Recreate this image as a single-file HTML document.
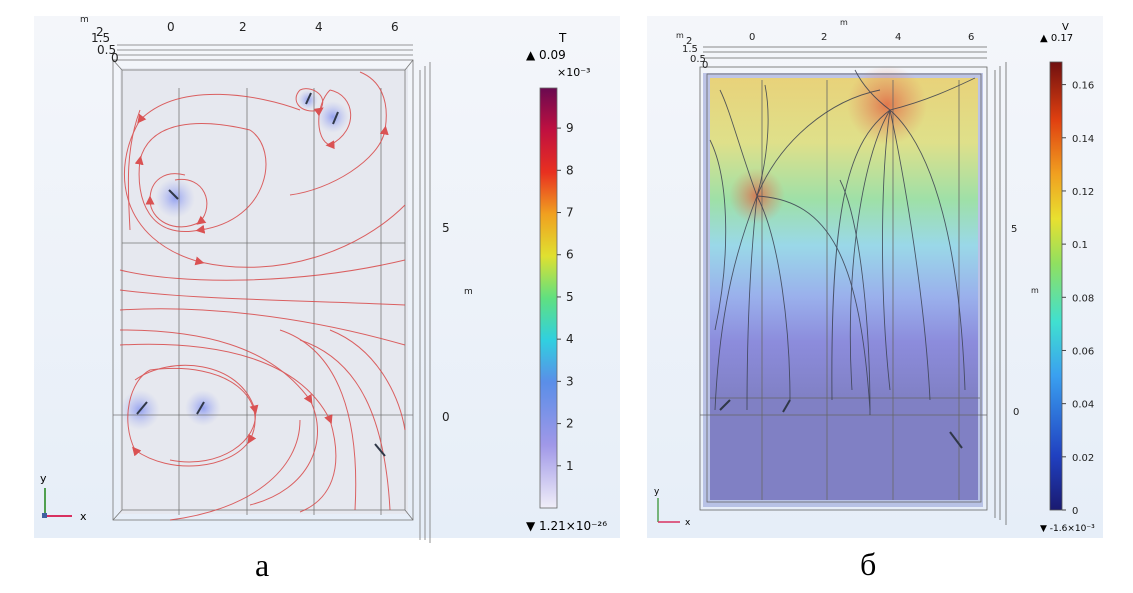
<!DOCTYPE html>
<html><head><meta charset="utf-8"><style>
html,body{margin:0;padding:0;background:#fff;width:1133px;height:593px;overflow:hidden}
svg{position:absolute;left:0;top:0}
text{font-family:"DejaVu Sans","Liberation Sans",sans-serif}
.cap{font-family:"Liberation Serif",serif;font-size:32px}
</style></head><body>
<svg width="1133" height="593" viewBox="0 0 1133 593">
<defs>
<linearGradient id="bgL" x1="0" y1="0" x2="0" y2="1"><stop offset="0" stop-color="#f4f6fa"/><stop offset="1" stop-color="#e6eef8"/></linearGradient>
<linearGradient id="cbT" x1="0" y1="1" x2="0" y2="0">
<stop offset="0" stop-color="#f0eef8"/><stop offset="0.15" stop-color="#a098e8"/><stop offset="0.3" stop-color="#5a8ee8"/><stop offset="0.4" stop-color="#30d0e0"/><stop offset="0.5" stop-color="#60e080"/><stop offset="0.6" stop-color="#e0e030"/><stop offset="0.7" stop-color="#f0a020"/><stop offset="0.8" stop-color="#e83020"/><stop offset="0.9" stop-color="#c01040"/><stop offset="1" stop-color="#6a0a50"/></linearGradient>
<linearGradient id="cbV" x1="0" y1="1" x2="0" y2="0">
<stop offset="0" stop-color="#1a1a70"/><stop offset="0.12" stop-color="#2040c0"/><stop offset="0.3" stop-color="#3aa0f0"/><stop offset="0.42" stop-color="#40e0d0"/><stop offset="0.55" stop-color="#90e060"/><stop offset="0.65" stop-color="#e8e030"/><stop offset="0.75" stop-color="#f0a020"/><stop offset="0.87" stop-color="#e04010"/><stop offset="1" stop-color="#701010"/></linearGradient>
<linearGradient id="field" x1="0" y1="0" x2="0" y2="1">
<stop offset="0" stop-color="#e8d27a"/><stop offset="0.2" stop-color="#dfe08a"/><stop offset="0.38" stop-color="#9ee0a8"/><stop offset="0.52" stop-color="#9ad8e8"/><stop offset="0.68" stop-color="#9ab0ec"/><stop offset="0.82" stop-color="#8c8cdc"/><stop offset="1" stop-color="#8080c4"/></linearGradient>
<radialGradient id="hot"><stop offset="0" stop-color="#e06040" stop-opacity="0.8"/><stop offset="1" stop-color="#e08060" stop-opacity="0"/></radialGradient>
<radialGradient id="blu"><stop offset="0" stop-color="#8090f0" stop-opacity="0.8"/><stop offset="1" stop-color="#b0b8f0" stop-opacity="0"/></radialGradient>
<marker id="ar" viewBox="0 0 10 10" refX="5" refY="5" markerWidth="9" markerHeight="9" markerUnits="userSpaceOnUse" orient="auto"><path d="M0,0L10,5L0,10z" fill="#d83838"/></marker>
<marker id="ak" viewBox="0 0 10 10" refX="5" refY="5" markerWidth="9" markerHeight="9" markerUnits="userSpaceOnUse" orient="auto"><path d="M0,0L10,5L0,10z" fill="#303848"/></marker>
</defs>

<!-- LEFT PANEL -->
<g>
<rect x="34" y="16" width="586" height="522" fill="url(#bgL)"/>
<rect x="120" y="68" width="288" height="446" fill="#e6e8ef"/>
<circle cx="175" cy="198" r="20" fill="url(#blu)"/><circle cx="333" cy="117" r="16" fill="url(#blu)"/><circle cx="308" cy="100" r="10" fill="url(#blu)"/>
<circle cx="140" cy="410" r="20" fill="url(#blu)"/><circle cx="203" cy="408" r="18" fill="url(#blu)"/>
<g fill="none" stroke="#777" stroke-width="0.8">
<rect x="113" y="60" width="300" height="460"/><rect x="122" y="70" width="283" height="440"/>
<line x1="113" y1="60" x2="122" y2="70"/><line x1="413" y1="60" x2="405" y2="70"/><line x1="113" y1="520" x2="122" y2="510"/><line x1="413" y1="520" x2="405" y2="510"/>
<line x1="113" y1="415" x2="413" y2="415"/><line x1="122" y1="243" x2="405" y2="243"/>
<line x1="179" y1="88" x2="179" y2="515"/><line x1="247" y1="88" x2="247" y2="515"/><line x1="314" y1="88" x2="314" y2="515"/><line x1="381" y1="88" x2="381" y2="515"/>
<line x1="117" y1="45" x2="413" y2="45"/><line x1="117" y1="50" x2="413" y2="50"/><line x1="117" y1="55" x2="413" y2="55"/>
<line x1="420" y1="70" x2="420" y2="540"/><line x1="425" y1="66" x2="425" y2="540"/><line x1="430" y1="62" x2="430" y2="543"/>
</g>
<g fill="none" stroke="#d84848" stroke-width="1" opacity="0.85">
<path d="M300,110 C260,95 180,80 140,120 C110,170 120,240 200,262 C280,280 360,250 405,205" marker-mid="url(#ar)"/>
<path d="M175,180 C205,175 215,205 200,222 C175,235 150,220 150,200 C150,180 165,170 185,175" marker-mid="url(#ar)"/>
<path d="M250,130 C280,150 270,220 200,230 C150,240 135,200 140,160 C150,120 200,118 250,130" marker-mid="url(#ar)"/>
<path d="M290,195 C330,190 380,160 385,130 C390,100 380,80 360,72" marker-mid="url(#ar)"/>
<path d="M120,270 C180,285 300,285 405,260" marker-mid="url(#ar)"/>
<path d="M120,290 C200,300 300,300 405,305" marker-mid="url(#ar)"/>
<path d="M120,310 C200,305 300,315 405,345" marker-mid="url(#ar)"/>
<path d="M120,330 C200,330 270,345 310,400 C330,440 310,490 250,505" marker-mid="url(#ar)"/>
<path d="M120,345 C220,340 300,360 330,420 C345,470 330,500 300,512" marker-mid="url(#ar)"/>
<path d="M150,370 C230,360 270,400 250,440 C230,470 170,475 135,450 C120,420 130,380 150,370" marker-mid="url(#ar)"/>
<path d="M135,380 C170,355 240,360 255,410 C260,440 220,470 170,460" marker-mid="url(#ar)"/>
<path d="M300,340 C360,360 385,420 390,510" marker-mid="url(#ar)"/>
<path d="M280,330 C340,350 360,420 355,510" marker-mid="url(#ar)"/>
<path d="M330,330 C380,350 400,400 405,430" marker-mid="url(#ar)"/>
<path d="M170,520 C250,510 300,470 300,420" marker-mid="url(#ar)"/>
<path d="M140,110 C125,150 128,190 130,230" marker-mid="url(#ar)"/>
<path d="M330,90 C355,95 360,130 330,145 C315,140 315,105 330,90" marker-mid="url(#ar)"/>
<path d="M300,90 C290,100 300,115 320,110 C330,95 310,85 300,90" marker-mid="url(#ar)"/>
</g>
<g stroke="#303848" stroke-width="2">
<line x1="306" y1="104" x2="311" y2="93"/><line x1="333" y1="124" x2="338" y2="112"/><line x1="169" y1="190" x2="178" y2="199"/>
<line x1="137" y1="414" x2="147" y2="402"/><line x1="197" y1="414" x2="204" y2="402"/><line x1="375" y1="444" x2="385" y2="456"/>
</g>
<g font-size="12" fill="#222">
<text x="167" y="31">0</text><text x="239" y="31">2</text><text x="315" y="31">4</text><text x="391" y="31">6</text>
<text x="80" y="22" font-size="9">m</text><text x="96" y="36">2</text><text x="91" y="42">1.5</text><text x="97" y="54">0.5</text><text x="111" y="62">0</text>
<text x="442" y="232">5</text><text x="442" y="421">0</text><text x="464" y="294" font-size="9">m</text>
</g>
<g>
<line x1="45" y1="516" x2="45" y2="488" stroke="#50a050" stroke-width="2"/><line x1="45" y1="516" x2="72" y2="516" stroke="#d83060" stroke-width="2"/>
<text x="40" y="482" font-size="11">y</text><text x="80" y="520" font-size="11">x</text><rect x="42" y="513" width="5" height="5" fill="#4060a0"/>
</g>
<g>
<rect x="540" y="88" width="17" height="420" fill="url(#cbT)" stroke="#666" stroke-width="0.8"/>
<text x="559" y="42" font-size="12">T</text>
<text x="526" y="59" font-size="12">▲ 0.09</text><text x="557" y="76" font-size="11">×10⁻³</text>
<text x="526" y="530" font-size="12">▼ 1.21×10⁻²⁶</text>
<g id="cbTicksL" font-size="12" fill="#222"></g>
</g>
<text x="255" y="576" class="cap">а</text>
</g>

<!-- RIGHT PANEL -->
<g>
<rect x="647" y="16" width="456" height="522" fill="url(#bgL)"/>
<rect x="703" y="73" width="280" height="434" fill="#9aa4d8" opacity="0.6"/>
<rect x="710" y="78" width="268" height="322" fill="url(#field)"/>
<rect x="710" y="400" width="268" height="100" fill="#8080c4"/>
<circle cx="887" cy="105" r="40" fill="url(#hot)"/><circle cx="757" cy="196" r="28" fill="url(#hot)"/>
<g fill="none" stroke="#666" stroke-width="0.8">
<rect x="700" y="67" width="287" height="443"/><rect x="707" y="74" width="274" height="428"/>
<line x1="700" y1="415" x2="987" y2="415"/><line x1="710" y1="398" x2="980" y2="398"/>
<line x1="762" y1="80" x2="762" y2="500"/><line x1="827" y1="80" x2="827" y2="500"/><line x1="893" y1="80" x2="893" y2="500"/><line x1="959" y1="80" x2="959" y2="500"/>
<line x1="703" y1="47" x2="987" y2="47"/><line x1="703" y1="52" x2="987" y2="52"/><line x1="703" y1="58" x2="987" y2="58"/>
<line x1="995" y1="70" x2="995" y2="518"/><line x1="1000" y1="66" x2="1000" y2="520"/><line x1="1006" y1="62" x2="1006" y2="525"/>
</g>
<g fill="none" stroke="#3a4050" stroke-width="0.9" opacity="0.85">
<path d="M757,196 C740,240 720,300 715,410" marker-mid="url(#ak)"/>
<path d="M757,196 C750,260 747,330 747,410" marker-mid="url(#ak)"/>
<path d="M757,196 C780,240 790,330 790,400" marker-mid="url(#ak)"/>
<path d="M757,196 C830,200 860,260 870,410" marker-mid="url(#ak)"/>
<path d="M757,196 C740,150 730,110 720,90" marker-mid="url(#ak)"/>
<path d="M757,196 C770,150 770,110 765,85" marker-mid="url(#ak)"/>
<path d="M757,196 C780,140 830,100 880,90" marker-mid="url(#ak)"/>
<path d="M890,110 C860,160 845,280 852,390" marker-mid="url(#ak)"/>
<path d="M890,110 C880,180 880,300 890,390" marker-mid="url(#ak)"/>
<path d="M890,110 C905,180 925,300 930,400" marker-mid="url(#ak)"/>
<path d="M890,110 C935,150 960,250 965,390" marker-mid="url(#ak)"/>
<path d="M890,110 C930,100 960,85 975,78" marker-mid="url(#ak)"/>
<path d="M890,110 C870,95 860,80 855,70" marker-mid="url(#ak)"/>
<path d="M890,110 C850,140 830,200 832,400" marker-mid="url(#ak)"/>
<path d="M710,140 C730,180 730,260 715,330" marker-mid="url(#ak)"/>
<path d="M840,180 C860,220 870,320 870,415" marker-mid="url(#ak)"/>
</g>
<g stroke="#303848" stroke-width="2">
<line x1="720" y1="410" x2="730" y2="400"/><line x1="783" y1="412" x2="790" y2="400"/><line x1="950" y1="432" x2="962" y2="448"/>
</g>
<g font-size="10" fill="#222">
<text x="749" y="40">0</text><text x="821" y="40">2</text><text x="895" y="40">4</text><text x="968" y="40">6</text>
<text x="840" y="25" font-size="8">m</text><text x="676" y="38" font-size="8">m</text><text x="686" y="44">2</text><text x="682" y="52">1.5</text><text x="690" y="62">0.5</text><text x="702" y="68">0</text>
<text x="1011" y="232">5</text><text x="1013" y="415">0</text><text x="1031" y="293" font-size="8">m</text>
</g>
<g>
<line x1="658" y1="522" x2="658" y2="498" stroke="#50a050" stroke-width="1.5"/><line x1="658" y1="522" x2="680" y2="522" stroke="#d83060" stroke-width="1.5"/>
<text x="654" y="494" font-size="9">y</text><text x="685" y="525" font-size="9">x</text>
</g>
<g>
<rect x="1050" y="62" width="12" height="448" fill="url(#cbV)" stroke="#555" stroke-width="0.8"/>
<text x="1062" y="30" font-size="10">V</text>
<text x="1040" y="41" font-size="10">▲ 0.17</text>
<text x="1040" y="531" font-size="9">▼ -1.6×10⁻³</text>
<g id="cbTicksR" font-size="10" fill="#222"></g>
</g>
<text x="860" y="575" class="cap">б</text>
</g>
</svg>
<script>
const tTicks = [1,2,3,4,5,6,7,8,9];
const tTickLabels = ["1","2","3","4","5","6","7","8","9"];
const vTicks = [0,0.02,0.04,0.06,0.08,0.1,0.12,0.14,0.16];
const vTickLabels = ["0","0.02","0.04","0.06","0.08","0.1","0.12","0.14","0.16"];
const tMax = 9.95, vMax = 0.1685;
function yT(v){return 508 - v/tMax*420;}
function yV(v){return 510 - v/vMax*448;}
const NS="http://www.w3.org/2000/svg";
const gl=document.getElementById('cbTicksL');
tTicks.forEach((v,i)=>{
  const y=yT(v);
  const l=document.createElementNS(NS,'line');
  l.setAttribute('x1',557);l.setAttribute('x2',561);l.setAttribute('y1',y);l.setAttribute('y2',y);l.setAttribute('stroke','#444');
  
  
  gl.appendChild(l);
  const t=document.createElementNS(NS,'text');
  t.setAttribute('x',566);t.setAttribute('y',y+4);t.textContent=tTickLabels[i];
  
  
  gl.appendChild(t);
});
const gr=document.getElementById('cbTicksR');
vTicks.forEach((v,i)=>{
  const y=yV(v);
  const l=document.createElementNS(NS,'line');
  l.setAttribute('x1',1062);l.setAttribute('x2',1066);l.setAttribute('y1',y);l.setAttribute('y2',y);l.setAttribute('stroke','#444');
  
  
  gr.appendChild(l);
  const t=document.createElementNS(NS,'text');
  t.setAttribute('x',1072);t.setAttribute('y',y+4);t.textContent=vTickLabels[i];
  
  
  gr.appendChild(t);
});
</script>
</body></html>
